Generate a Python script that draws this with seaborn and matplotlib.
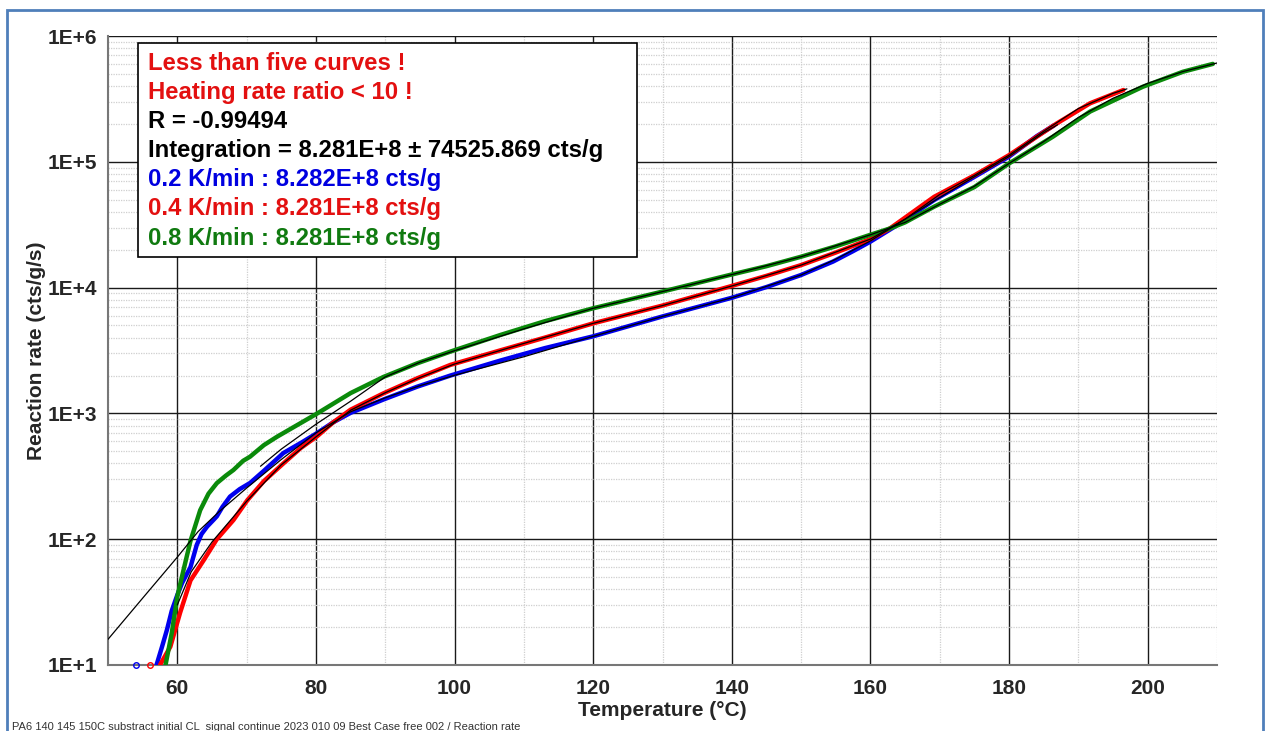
import matplotlib
matplotlib.use("Agg")
import matplotlib.pyplot as plt
import matplotlib.patches as mpatches
from matplotlib.ticker import LogLocator, FixedLocator, NullFormatter
import seaborn as sns
import pandas as pd
import numpy as np

# ---- measured reaction rate curves (cts/g/s) ----
t_02 = [57.0, 57.8, 58.5, 59.2, 60.0, 60.7, 61.9, 62.8, 63.5, 64.3, 65.2, 65.7, 66.5,
        67.6, 69.0, 70.5, 72.5, 75.3, 78.0, 80.2, 82.5, 85.0, 89.75, 94.6, 99.4, 106.6,
        113.0, 120.0, 130.0, 140.0, 145.0, 150.0, 154.6, 157.5, 160.0, 163.5, 169.2,
        175.0, 180.0, 184.0, 186.5]
r_02 = [10, 14, 19, 27, 36, 45, 60, 90, 110, 126, 142, 152, 180,
        218, 250, 280, 350, 484, 590, 700, 850, 1010, 1290, 1630, 2000, 2630,
        3300, 4100, 5900, 8300, 10100, 12600, 16100, 19500, 23200, 30500, 49700,
        75900, 110000, 160000, 195000]

t_04 = [57.5, 59.0, 60.4, 61.9, 63.8, 65.7, 68.1, 70.1, 72.5, 75.3, 77.8, 80.2, 82.5,
        85.0, 89.7, 94.6, 99.4, 106.6, 113.0, 120.0, 130.0, 139.7, 145.0, 150.0,
        155.0, 160.0, 162.8, 165.0, 169.2, 175.0, 180.0, 186.9, 191.7, 196.5]
r_04 = [10, 14, 26, 47, 68, 100, 142, 204, 290, 400, 530, 660, 850,
        1070, 1440, 1900, 2430, 3170, 4000, 5200, 7200, 10200, 12400, 15100,
        19000, 24300, 29500, 36000, 52700, 78000, 113000, 202000, 292000, 372000]

t_08 = [58.3, 59.2, 60.0, 60.9, 61.9, 63.3, 64.5, 65.7, 67.0, 68.1, 69.5, 70.5, 72.5,
        74.4, 77.7, 80.2, 85.0, 89.75, 94.6, 99.4, 106.6, 113.0, 120.0, 130.0, 139.7,
        145.0, 150.0, 155.0, 160.0, 162.8, 165.0, 169.2, 175.0, 180.0, 186.3, 191.7,
        199.3, 205.1, 209.4]
r_08 = [10, 18, 35, 57, 97, 170, 230, 279, 320, 355, 420, 453, 560,
        653, 832, 1000, 1450, 1950, 2500, 3100, 4200, 5400, 6850, 9300, 12600,
        14800, 17600, 21300, 26300, 29500, 33000, 44000, 63000, 97000, 158000, 251000,
        395000, 520000, 600000]

# ---- kinetic model curves ----
mt_02 = [50, 55, 60, 63, 66, 70, 75, 80, 85, 90, 95, 100, 110, 120, 130, 140, 150,
         155, 160, 165, 170, 175, 180, 185, 187]
mr_02 = [16, 34, 72, 115, 165, 255, 430, 700, 1030, 1330, 1660, 2010, 2820, 4100,
         5900, 8300, 12600, 16800, 23500, 35000, 52000, 76000, 110000, 170000, 197000]
mt_04 = [60, 62, 65, 70, 75, 80, 85, 90, 95, 100, 110, 120, 130, 140, 150, 160, 165,
         170, 175, 180, 185, 190, 195, 197]
mr_04 = [30, 55, 95, 200, 390, 650, 1060, 1460, 1930, 2470, 3600, 5200, 7200, 10300,
         15100, 24300, 35000, 55000, 78000, 113000, 175000, 265000, 350000, 380000]
mt_08 = [72, 75, 80, 85, 90, 95, 100, 110, 120, 130, 140, 150, 160, 165, 170, 175,
         180, 185, 190, 195, 200, 205, 210]
mr_08 = [380, 520, 820, 1250, 1950, 2550, 3150, 4700, 6850, 9300, 12700, 17600,
         26300, 33000, 46000, 64000, 97000, 145000, 225000, 320000, 420000, 520000, 610000]

# isolated points sitting on the lower bound
stray_t = [54.0, 56.1]
stray_r = [10, 10]

rate_labels = ["0.2 K/min", "0.4 K/min", "0.8 K/min"]
integrals = ["8.282E+8", "8.281E+8", "8.281E+8"]
colors = ["#0000ee", "#ff0000", "#0a8a0a"]
text_colors = ["#0000e0", "#e31010", "#107a10"]

x_ticks = [60, 80, 100, 120, 140, 160, 180, 200]
y_ticks = [1e1, 1e2, 1e3, 1e4, 1e5, 1e6]
y_tick_labels = ["1E+1", "1E+2", "1E+3", "1E+4", "1E+5", "1E+6"]

info_lines = [
    ("Less than five curves !", "#e31010"),
    ("Heating rate ratio < 10 !", "#e31010"),
    ("R = -0.99494", "#000000"),
    ("Integration = 8.281E+8 \u00b1 74525.869 cts/g", "#000000"),
] + [(f"{lab} : {val} cts/g", c) for lab, val, c in zip(rate_labels, integrals, text_colors)]

footer = ("PA6 140 145 150C substract initial CL  signal continue 2023 010 09 "
          "Best Case free 002 / Reaction rate")

sns.set_style("white")
plt.rcParams["font.family"] = ["Liberation Sans", "DejaVu Sans"]

W, H = 1266, 731
fig = plt.figure(figsize=(W / 100, H / 100), dpi=100)
ax = fig.add_axes([108 / W, 1 - 665 / H, (1217 - 108) / W, (665 - 36) / H])

measured = pd.concat([
    pd.DataFrame({"T": t, "rate": r, "series": lab})
    for t, r, lab in zip([t_02, t_04, t_08], [r_02, r_04, r_08], rate_labels)
])
model = pd.concat([
    pd.DataFrame({"T": t, "rate": r, "series": lab})
    for t, r, lab in zip([mt_02, mt_04, mt_08], [mr_02, mr_04, mr_08], rate_labels)
])

ax.set_yscale("log")
sns.lineplot(data=measured, x="T", y="rate", hue="series", palette=colors,
             linewidth=3.2, sort=False, estimator=None, legend=False, ax=ax, zorder=3)
for lab in rate_labels:
    sns.lineplot(data=model[model["series"] == lab], x="T", y="rate", color="black",
                 linewidth=0.9, sort=False, estimator=None, legend=False, ax=ax, zorder=4)
for t, r, c in zip(stray_t, stray_r, colors[:2]):
    ax.plot([t], [r], marker="o", ms=4, mfc="none", mec=c, mew=1, clip_on=False, zorder=5)

ax.set_xlim(50, 210)
ax.set_ylim(10, 1e6)

# grid
ax.xaxis.set_major_locator(FixedLocator(x_ticks))
ax.xaxis.set_minor_locator(FixedLocator([50, 70, 90, 110, 130, 150, 170, 190, 210]))
ax.yaxis.set_major_locator(FixedLocator(y_ticks))
ax.yaxis.set_minor_locator(LogLocator(base=10, subs=np.arange(2, 10), numticks=20))
ax.yaxis.set_minor_formatter(NullFormatter())
ax.set_yticklabels(y_tick_labels)
ax.grid(which="major", color="#1a1a1a", linewidth=1.0, linestyle="-", zorder=1)
ax.grid(which="minor", color="#cfcfcf", linewidth=0.9, linestyle=(0, (1, 1)), zorder=1)
ax.set_axisbelow(True)

for side in ["top", "right"]:
    ax.spines[side].set_visible(False)
for side in ["left", "bottom"]:
    ax.spines[side].set_color("#777777")
    ax.spines[side].set_linewidth(1.5)

ax.tick_params(axis="both", which="major", direction="out", length=6, width=1,
               color="#333333", labelsize=15, pad=2)
ax.tick_params(axis="x", which="major", pad=4)
ax.tick_params(axis="both", which="minor", direction="out", length=3, width=0.8,
               color="#888888")
for lbl in ax.get_xticklabels() + ax.get_yticklabels():
    lbl.set_fontweight("bold")

ax.set_xlabel("Temperature (\u00b0C)", fontsize=15, fontweight="bold", labelpad=2)
ax.set_ylabel("Reaction rate (cts/g/s)", fontsize=15, fontweight="bold", labelpad=1)

# info box
box = mpatches.Rectangle((138 / W, 1 - 257 / H), (637 - 138) / W, (257 - 43) / H,
                         transform=fig.transFigure, facecolor="white",
                         edgecolor="black", linewidth=1.2, zorder=10)
fig.add_artist(box)
for i, (txt, c) in enumerate(info_lines):
    y = 63 + i * 29.2
    fig.text(148 / W, 1 - y / H, txt, color=c, fontsize=17.2, fontweight="bold",
             va="center", ha="left", zorder=11)

# outer frame
frame = mpatches.Rectangle((7 / W, -0.05), (1263 - 7) / W, 1.05 - 10 / H,
                           transform=fig.transFigure, fill=False,
                           edgecolor="#4f7fba", linewidth=2, zorder=0)
fig.add_artist(frame)

fig.text(12 / W, 1 - 727 / H, footer, fontsize=8, color="#333333",
         va="center", ha="left")

fig.savefig("out.png", dpi=100)
